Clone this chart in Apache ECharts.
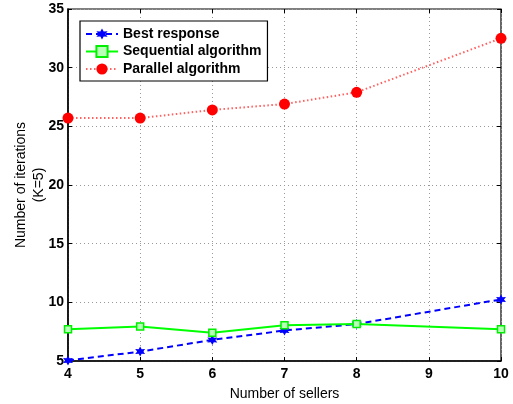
<!DOCTYPE html>
<html>
<head>
<meta charset="utf-8">
<script src="https://cdn.jsdelivr.net/npm/echarts@6/dist/echarts.min.js"></script>
<style>html,body{margin:0;padding:0;background:#fff}#c{width:513px;height:404px}</style>
</head>
<body>
<div id="c"></div>
<script>
var sellers = [4, 5, 6, 7, 8, 10];
var bestResponse = [5.05, 5.8, 6.8, 7.6, 8.15, 10.25];
var sequential = [7.7, 7.95, 7.4, 8.05, 8.15, 7.7];
var parallel = [25.7, 25.7, 26.4, 26.9, 27.9, 32.5];
var xTicks = [4, 5, 6, 7, 8, 9, 10];
var yTicks = [5, 10, 15, 20, 25, 30, 35];

function pairs(xs, ys) { return xs.map(function (x, i) { return [x, ys[i]]; }); }

var starPath = 'path://M0,-10 L2.6,-4.5 L8.66,-5 L5.2,0 L8.66,5 L2.6,4.5 L0,10 L-2.6,4.5 L-8.66,5 L-5.2,0 L-8.66,-5 L-2.6,-4.5 Z';
var font = 'Liberation Sans, Arial, sans-serif';

var chart = echarts.init(document.getElementById('c'), null, {renderer: 'canvas'});
var tickLabel = {fontFamily: font, fontWeight: 'bold', fontSize: 14, color: '#000'};
chart.setOption({
  animation: false,
  backgroundColor: '#fff',
  grid: {left: 68, right: 12, top: 9, bottom: 43, containLabel: false, outerBoundsMode: 'none',
         show: true, borderColor: '#000', borderWidth: 1.2, backgroundColor: 'transparent'},
  legend: {
    orient: 'vertical', left: 80, top: 21,
    backgroundColor: '#fff', borderColor: '#000', borderWidth: 1.2,
    padding: [6, 6, 5, 5], itemGap: 3.5, itemWidth: 32, itemHeight: 14,
    textStyle: {fontFamily: font, fontWeight: 'bold', fontSize: 14, color: '#000'},
    data: ['Best response', 'Sequential algorithm', 'Parallel algorithm']
  },
  xAxis: [{
    type: 'value', min: 4, max: 10, interval: 1,
    name: 'Number of sellers', nameLocation: 'middle', nameGap: 26, nameMoveOverlap: false,
    nameTextStyle: {fontFamily: font, fontSize: 14, color: '#000'},
    axisLine: {show: true, lineStyle: {color: '#000', width: 1.5}},
    axisTick: {show: true, inside: true, length: 4, lineStyle: {color: '#000'}},
    axisLabel: Object.assign({margin: 6}, tickLabel),
    splitLine: {show: true, lineStyle: {color: '#999', type: [1, 3], width: 1}}
  }, {
    type: 'value', min: 4, max: 10, interval: 1, position: 'top',
    axisLine: {show: false}, axisTick: {show: true, inside: true, length: 4, lineStyle: {color: '#000'}},
    axisLabel: {show: false}, splitLine: {show: false}
  }],
  yAxis: [{
    type: 'value', min: 5, max: 35, interval: 5,
    name: 'Number of iterations\n(K=5)', nameLocation: 'middle', nameGap: 20, nameRotate: 90, nameMoveOverlap: false,
    nameTextStyle: {fontFamily: font, fontSize: 14, color: '#000', lineHeight: 18},
    axisLine: {show: true, lineStyle: {color: '#000', width: 1.5}},
    axisTick: {show: true, inside: true, length: 4, lineStyle: {color: '#000'}},
    axisLabel: Object.assign({margin: 4}, tickLabel),
    splitLine: {show: true, lineStyle: {color: '#999', type: [1, 3], width: 1}}
  }, {
    type: 'value', min: 5, max: 35, interval: 5, position: 'right',
    axisLine: {show: false}, axisTick: {show: true, inside: true, length: 4, lineStyle: {color: '#000'}},
    axisLabel: {show: false}, splitLine: {show: false}
  }],
  series: [{
    name: 'Best response', type: 'line', data: pairs(sellers, bestResponse),
    symbol: starPath, symbolSize: 10, z: 3,
    lineStyle: {color: '#0000ff', width: 2, type: [6, 4]},
    itemStyle: {color: '#0000ff'}
  }, {
    name: 'Sequential algorithm', type: 'line', data: pairs(sellers, sequential),
    symbol: 'rect', symbolSize: 7, z: 4,
    lineStyle: {color: '#00ff00', width: 2, type: 'solid'},
    itemStyle: {color: '#b8ffb8', borderColor: '#00ee00', borderWidth: 1.5}
  }, {
    name: 'Parallel algorithm', type: 'line', data: pairs(sellers, parallel),
    symbol: 'circle', symbolSize: 11, z: 2,
    lineStyle: {color: '#ff6060', width: 2, type: [1.5, 2.5]},
    itemStyle: {color: '#ff0000'}
  }]
});
</script>
</body>
</html>
